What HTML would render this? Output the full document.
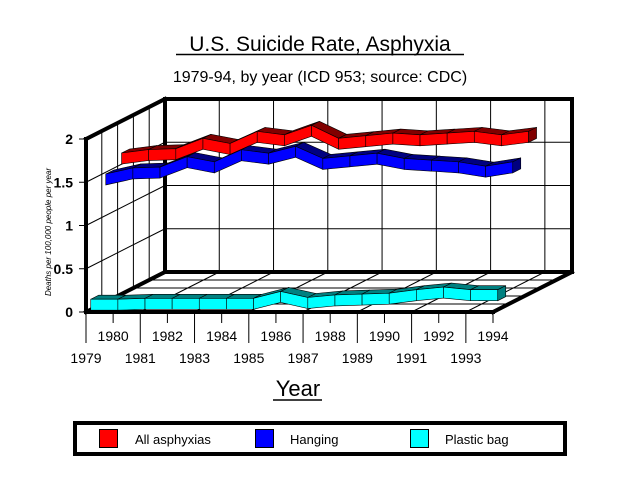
<!DOCTYPE html>
<html><head><meta charset="utf-8"><style>
html,body{margin:0;padding:0;background:#fff;}
svg{display:block;font-family:"Liberation Sans",Arial,sans-serif;}
</style></head><body>
<svg id="chart" width="640" height="480" viewBox="0 0 640 480" xmlns="http://www.w3.org/2000/svg">
<text x="320" y="51" font-size="21" text-anchor="middle">U.S. Suicide Rate, Asphyxia</text>
<line x1="176" y1="54.5" x2="464" y2="54.5" stroke="#000" stroke-width="1.5"/>
<text x="320" y="82" font-size="16" text-anchor="middle">1979-94, by year (ICD 953; source: CDC)</text>
<text transform="translate(51,232) rotate(-90)" font-size="8" font-style="italic" text-anchor="middle">Deaths per 100,000 people per year</text>
<text x="298" y="396" font-size="22" text-anchor="middle">Year</text>
<line x1="273" y1="400" x2="322" y2="400" stroke="#000" stroke-width="1.5"/>
<g id="grid"></g><g id="frame"></g><g id="series"></g><g id="axes"></g>
<g>
<rect x="75" y="423" width="490" height="31" fill="#fff" stroke="#000" stroke-width="4"/>
<rect x="99.5" y="429.5" width="18" height="18" fill="#ff0000" stroke="#000"/>
<text x="135" y="444" font-size="13">All asphyxias</text>
<rect x="255.5" y="429.5" width="18" height="18" fill="#0000ff" stroke="#000"/>
<text x="290" y="444" font-size="13">Hanging</text>
<rect x="410.5" y="429.5" width="18" height="18" fill="#00ffff" stroke="#000"/>
<text x="445" y="444" font-size="13">Plastic bag</text>
</g>
</svg>
<script>
const years = ['1979','1980','1981','1982','1983','1984','1985','1986','1987','1988','1989','1990','1991','1992','1993','1994'];
const allAsphyxias = [1.63,1.67,1.68,1.80,1.74,1.88,1.84,1.95,1.80,1.83,1.86,1.84,1.86,1.88,1.84,1.88];
const hanging = [1.48,1.55,1.56,1.68,1.62,1.76,1.72,1.80,1.66,1.69,1.72,1.66,1.64,1.62,1.57,1.62];
const plasticBag = [0.12,0.12,0.13,0.13,0.13,0.13,0.13,0.21,0.14,0.17,0.18,0.19,0.23,0.26,0.23,0.23];
const yTicks = [0,0.5,1,1.5,2];
const yTickLabels = ['0','0.5','1','1.5','2'];

const NS='http://www.w3.org/2000/svg';
const X0=86, Y0=312, XW=407, DX=79, DY=-40, YMAX=2, YH=173;
function xs(i){return X0+i*XW/(years.length-1);}
function ys(v){return Y0-v*YH/YMAX;}
function mk(tag,attrs,parent){const e=document.createElementNS(NS,tag);for(const k in attrs)e.setAttribute(k,attrs[k]);parent.appendChild(e);return e;}
const grid=document.getElementById('grid'),ser=document.getElementById('series'),frame=document.getElementById('frame'),axes=document.getElementById('axes');

yTicks.forEach((t,k)=>{ if(t===0||t===YMAX)return;
 const l=mk('line',{x1:X0+DX,y1:ys(t)+DY,x2:X0+XW+DX,y2:ys(t)+DY,stroke:'#000','stroke-width':1},grid);
 
 const d=mk('line',{x1:X0,y1:ys(t),x2:X0+DX,y2:ys(t)+DY,stroke:'#000','stroke-width':1},grid);
 
});
for(let i=2;i<years.length;i+=2){
 const l=mk('line',{x1:xs(i)+DX,y1:Y0+DY,x2:xs(i)+DX,y2:ys(YMAX)+DY,stroke:'#000','stroke-width':1},grid);
 
 const f=mk('line',{x1:xs(i),y1:Y0,x2:xs(i)+DX,y2:Y0+DY,stroke:'#000','stroke-width':1},grid);
 
}
for(let k=1;k<5;k++){const f=k/5;
 const l=mk('line',{x1:X0+DX*f,y1:Y0+DY*f,x2:X0+DX*f,y2:ys(YMAX)+DY*f,stroke:'#000','stroke-width':1},grid);
 
 const g=mk('line',{x1:X0+DX*f,y1:Y0+DY*f,x2:X0+XW+DX*f,y2:Y0+DY*f,stroke:'#000','stroke-width':1},grid);
 
}

const fl=[[X0,ys(YMAX),X0,Y0],[X0+DX,ys(YMAX)+DY,X0+DX,Y0+DY],[X0,ys(YMAX),X0+DX,ys(YMAX)+DY],
 [X0+DX,ys(YMAX)+DY,X0+XW+DX,ys(YMAX)+DY],[X0+XW+DX,ys(YMAX)+DY,X0+XW+DX,Y0+DY],[X0+DX,Y0+DY,X0+XW+DX,Y0+DY],
 [X0,Y0,X0+XW,Y0],[X0+XW,Y0,X0+XW+DX,Y0+DY],[X0,Y0,X0+DX,Y0+DY]];
fl.forEach((a,k)=>{const l=mk('line',{x1:a[0],y1:a[1],x2:a[2],y2:a[3],stroke:'#000','stroke-width':4,'stroke-linecap':'square'},frame);
 });

const H=11, TX=8, TY=-4;
function ribbon(vals,depth,front,top,name){
 const ox=DX*depth, oy=DY*depth;
 const g=mk('g',{},ser);
 
 for(let i=0;i<vals.length-1;i++){
  const x1=xs(i)+ox,y1=ys(vals[i])+oy,x2=xs(i+1)+ox,y2=ys(vals[i+1])+oy;
  const t=mk('polygon',{points:`${x1},${y1} ${x2},${y2} ${x2+TX},${y2+TY} ${x1+TX},${y1+TY}`,fill:top,stroke:'#000','stroke-width':0.6},g);
  
  const f=mk('polygon',{points:`${x1},${y1} ${x2},${y2} ${x2},${y2+H} ${x1},${y1+H}`,fill:front,stroke:'#000','stroke-width':0.6},g);
  
 }
 const n=vals.length-1,xe=xs(n)+ox,ye=ys(vals[n])+oy;
 const c=mk('polygon',{points:`${xe},${ye} ${xe+TX},${ye+TY} ${xe+TX},${ye+TY+H} ${xe},${ye+H}`,fill:top,stroke:'#000','stroke-width':0.6},g);
 
}
ribbon(allAsphyxias,0.45,'#ff0000','#800000','all-asphyxias');
ribbon(hanging,0.25,'#0000ff','#000080','hanging');
ribbon(plasticBag,0.06,'#00ffff','#008080','plastic-bag');

yTicks.forEach((t,k)=>{
 const l=mk('line',{x1:X0-7,y1:ys(t),x2:X0,y2:ys(t),stroke:'#000','stroke-width':1},axes);
 
 const tx=mk('text',{x:X0-13,y:ys(t)+5,'font-size':14,'font-weight':'bold','text-anchor':'end'},axes);
 tx.textContent=yTickLabels[k];
 
});
years.forEach((yr,i)=>{
 const even=i%2===0;
 const l=mk('line',{x1:xs(i),y1:Y0,x2:xs(i),y2:even?343:323,stroke:'#000','stroke-width':1},axes);
 
 const tx=mk('text',{x:xs(i),y:even?363:341,'font-size':14,'text-anchor':'middle'},axes);
 tx.textContent=yr;
 
});
</script>
</body></html>
